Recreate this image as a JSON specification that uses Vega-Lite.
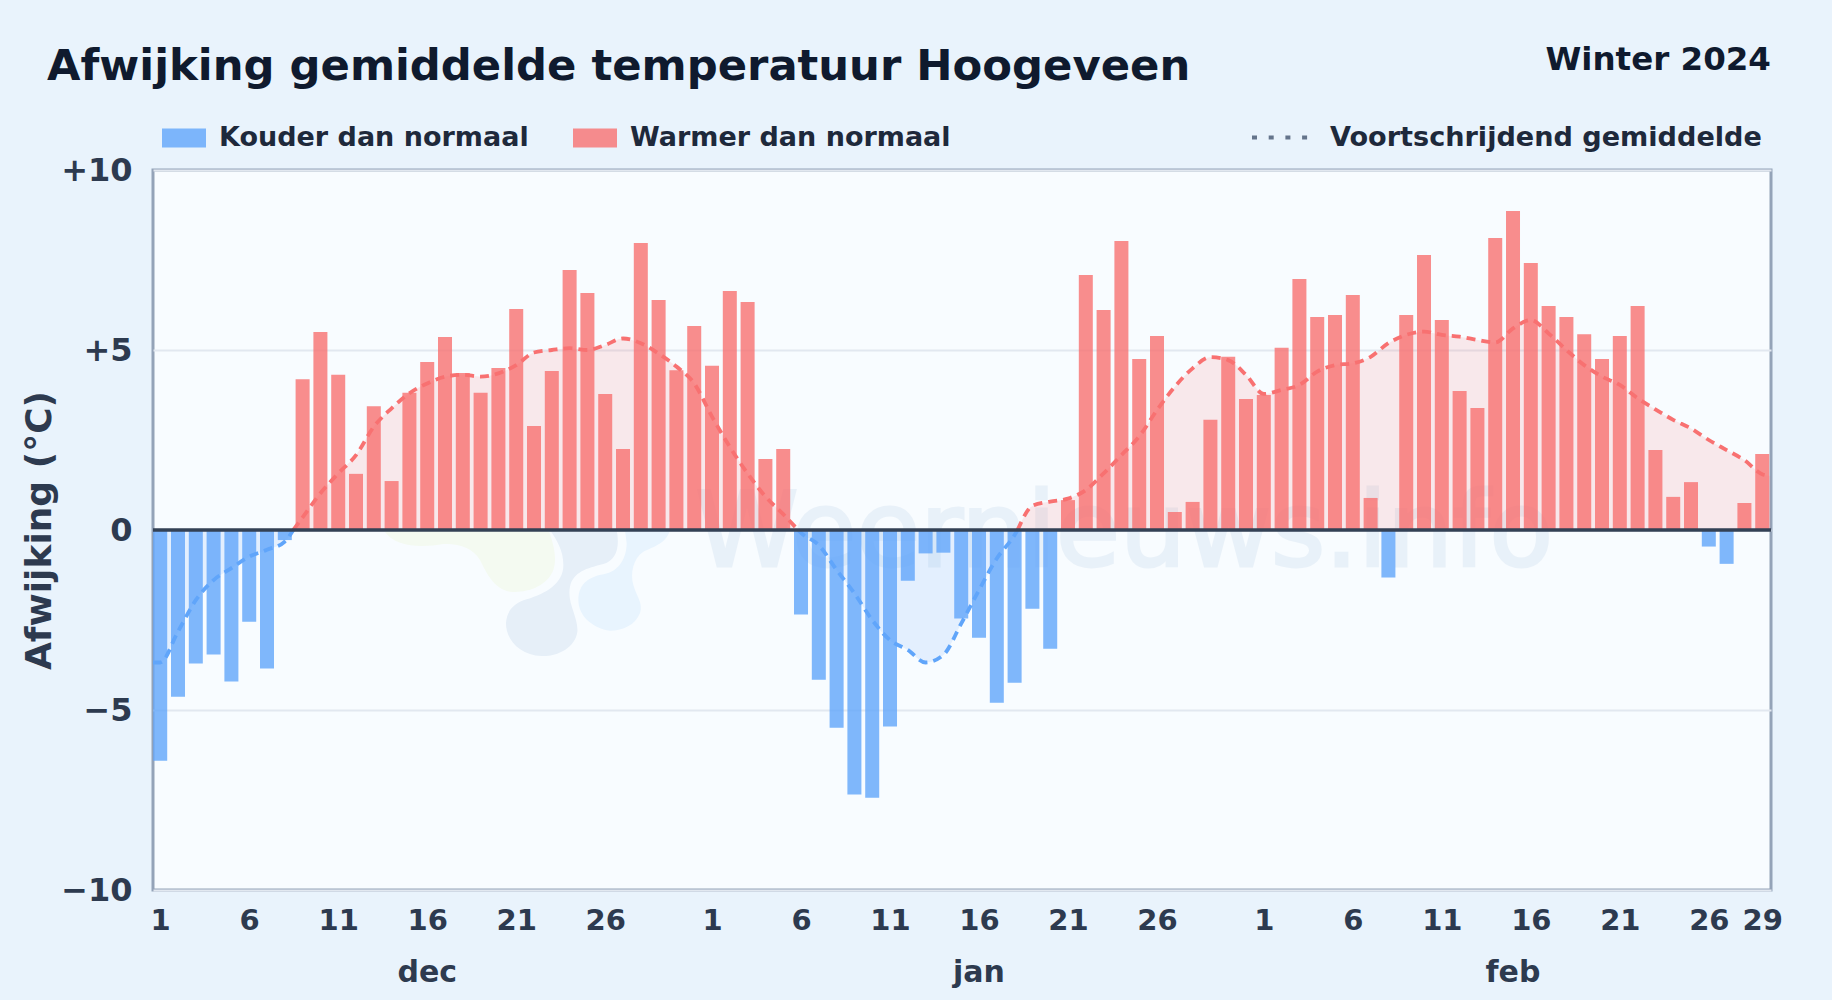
{"$schema":"https://vega.github.io/schema/vega-lite/v6.json","autosize":{"type":"none"},"width":1618,"height":720,"padding":{"left":153,"top":170,"right":61,"bottom":110},"background":"#e9f3fc","title":{"text":"Afwijking gemiddelde temperatuur Hoogeveen","anchor":"start","frame":"group","dx":-106,"offset":-79,"baseline":"alphabetic","font":"DejaVu Sans","fontWeight":"bold","fontSize":43.3,"color":"#0f1a2e"},"view":{"stroke":"#94a3b8","strokeWidth":3,"fill":"#f8fcff"},"config":{"font":"DejaVu Sans"},"resolve":{"scale":{"fill":"independent"}},"datasets":{"dagen":[{"date":"2023-12-01","dev":-6.41,"klasse":"Kouder dan normaal"},{"date":"2023-12-02","dev":-4.63,"klasse":"Kouder dan normaal"},{"date":"2023-12-03","dev":-3.71,"klasse":"Kouder dan normaal"},{"date":"2023-12-04","dev":-3.46,"klasse":"Kouder dan normaal"},{"date":"2023-12-05","dev":-4.21,"klasse":"Kouder dan normaal"},{"date":"2023-12-06","dev":-2.55,"klasse":"Kouder dan normaal"},{"date":"2023-12-07","dev":-3.85,"klasse":"Kouder dan normaal"},{"date":"2023-12-08","dev":-0.28,"klasse":"Kouder dan normaal"},{"date":"2023-12-09","dev":4.19,"klasse":"Warmer dan normaal"},{"date":"2023-12-10","dev":5.5,"klasse":"Warmer dan normaal"},{"date":"2023-12-11","dev":4.31,"klasse":"Warmer dan normaal"},{"date":"2023-12-12","dev":1.56,"klasse":"Warmer dan normaal"},{"date":"2023-12-13","dev":3.44,"klasse":"Warmer dan normaal"},{"date":"2023-12-14","dev":1.36,"klasse":"Warmer dan normaal"},{"date":"2023-12-15","dev":3.81,"klasse":"Warmer dan normaal"},{"date":"2023-12-16","dev":4.67,"klasse":"Warmer dan normaal"},{"date":"2023-12-17","dev":5.36,"klasse":"Warmer dan normaal"},{"date":"2023-12-18","dev":4.36,"klasse":"Warmer dan normaal"},{"date":"2023-12-19","dev":3.81,"klasse":"Warmer dan normaal"},{"date":"2023-12-20","dev":4.5,"klasse":"Warmer dan normaal"},{"date":"2023-12-21","dev":6.14,"klasse":"Warmer dan normaal"},{"date":"2023-12-22","dev":2.89,"klasse":"Warmer dan normaal"},{"date":"2023-12-23","dev":4.42,"klasse":"Warmer dan normaal"},{"date":"2023-12-24","dev":7.22,"klasse":"Warmer dan normaal"},{"date":"2023-12-25","dev":6.58,"klasse":"Warmer dan normaal"},{"date":"2023-12-26","dev":3.78,"klasse":"Warmer dan normaal"},{"date":"2023-12-27","dev":2.25,"klasse":"Warmer dan normaal"},{"date":"2023-12-28","dev":7.97,"klasse":"Warmer dan normaal"},{"date":"2023-12-29","dev":6.39,"klasse":"Warmer dan normaal"},{"date":"2023-12-30","dev":4.44,"klasse":"Warmer dan normaal"},{"date":"2023-12-31","dev":5.67,"klasse":"Warmer dan normaal"},{"date":"2024-01-01","dev":4.56,"klasse":"Warmer dan normaal"},{"date":"2024-01-02","dev":6.64,"klasse":"Warmer dan normaal"},{"date":"2024-01-03","dev":6.33,"klasse":"Warmer dan normaal"},{"date":"2024-01-04","dev":1.97,"klasse":"Warmer dan normaal"},{"date":"2024-01-05","dev":2.25,"klasse":"Warmer dan normaal"},{"date":"2024-01-06","dev":-2.35,"klasse":"Kouder dan normaal"},{"date":"2024-01-07","dev":-4.16,"klasse":"Kouder dan normaal"},{"date":"2024-01-08","dev":-5.49,"klasse":"Kouder dan normaal"},{"date":"2024-01-09","dev":-7.35,"klasse":"Kouder dan normaal"},{"date":"2024-01-10","dev":-7.44,"klasse":"Kouder dan normaal"},{"date":"2024-01-11","dev":-5.46,"klasse":"Kouder dan normaal"},{"date":"2024-01-12","dev":-1.41,"klasse":"Kouder dan normaal"},{"date":"2024-01-13","dev":-0.65,"klasse":"Kouder dan normaal"},{"date":"2024-01-14","dev":-0.63,"klasse":"Kouder dan normaal"},{"date":"2024-01-15","dev":-2.46,"klasse":"Kouder dan normaal"},{"date":"2024-01-16","dev":-2.99,"klasse":"Kouder dan normaal"},{"date":"2024-01-17","dev":-4.8,"klasse":"Kouder dan normaal"},{"date":"2024-01-18","dev":-4.24,"klasse":"Kouder dan normaal"},{"date":"2024-01-19","dev":-2.19,"klasse":"Kouder dan normaal"},{"date":"2024-01-20","dev":-3.3,"klasse":"Kouder dan normaal"},{"date":"2024-01-21","dev":0.83,"klasse":"Warmer dan normaal"},{"date":"2024-01-22","dev":7.08,"klasse":"Warmer dan normaal"},{"date":"2024-01-23","dev":6.11,"klasse":"Warmer dan normaal"},{"date":"2024-01-24","dev":8.03,"klasse":"Warmer dan normaal"},{"date":"2024-01-25","dev":4.75,"klasse":"Warmer dan normaal"},{"date":"2024-01-26","dev":5.39,"klasse":"Warmer dan normaal"},{"date":"2024-01-27","dev":0.5,"klasse":"Warmer dan normaal"},{"date":"2024-01-28","dev":0.78,"klasse":"Warmer dan normaal"},{"date":"2024-01-29","dev":3.06,"klasse":"Warmer dan normaal"},{"date":"2024-01-30","dev":4.81,"klasse":"Warmer dan normaal"},{"date":"2024-01-31","dev":3.64,"klasse":"Warmer dan normaal"},{"date":"2024-02-01","dev":3.75,"klasse":"Warmer dan normaal"},{"date":"2024-02-02","dev":5.06,"klasse":"Warmer dan normaal"},{"date":"2024-02-03","dev":6.97,"klasse":"Warmer dan normaal"},{"date":"2024-02-04","dev":5.92,"klasse":"Warmer dan normaal"},{"date":"2024-02-05","dev":5.97,"klasse":"Warmer dan normaal"},{"date":"2024-02-06","dev":6.53,"klasse":"Warmer dan normaal"},{"date":"2024-02-07","dev":0.89,"klasse":"Warmer dan normaal"},{"date":"2024-02-08","dev":-1.32,"klasse":"Kouder dan normaal"},{"date":"2024-02-09","dev":5.97,"klasse":"Warmer dan normaal"},{"date":"2024-02-10","dev":7.64,"klasse":"Warmer dan normaal"},{"date":"2024-02-11","dev":5.83,"klasse":"Warmer dan normaal"},{"date":"2024-02-12","dev":3.86,"klasse":"Warmer dan normaal"},{"date":"2024-02-13","dev":3.39,"klasse":"Warmer dan normaal"},{"date":"2024-02-14","dev":8.11,"klasse":"Warmer dan normaal"},{"date":"2024-02-15","dev":8.86,"klasse":"Warmer dan normaal"},{"date":"2024-02-16","dev":7.42,"klasse":"Warmer dan normaal"},{"date":"2024-02-17","dev":6.22,"klasse":"Warmer dan normaal"},{"date":"2024-02-18","dev":5.92,"klasse":"Warmer dan normaal"},{"date":"2024-02-19","dev":5.44,"klasse":"Warmer dan normaal"},{"date":"2024-02-20","dev":4.75,"klasse":"Warmer dan normaal"},{"date":"2024-02-21","dev":5.39,"klasse":"Warmer dan normaal"},{"date":"2024-02-22","dev":6.22,"klasse":"Warmer dan normaal"},{"date":"2024-02-23","dev":2.22,"klasse":"Warmer dan normaal"},{"date":"2024-02-24","dev":0.92,"klasse":"Warmer dan normaal"},{"date":"2024-02-25","dev":1.33,"klasse":"Warmer dan normaal"},{"date":"2024-02-26","dev":-0.46,"klasse":"Kouder dan normaal"},{"date":"2024-02-27","dev":-0.94,"klasse":"Kouder dan normaal"},{"date":"2024-02-28","dev":0.75,"klasse":"Warmer dan normaal"},{"date":"2024-02-29","dev":2.11,"klasse":"Warmer dan normaal"}],"gemiddelde":[{"date":"2023-11-30T14:17:00Z","ma":-3.68,"teken":"koud","deel":"k1"},{"date":"2023-12-01","ma":-3.68,"teken":"koud","deel":"k1"},{"date":"2023-12-02","ma":-2.82,"teken":"koud","deel":"k1"},{"date":"2023-12-03","ma":-1.95,"teken":"koud","deel":"k1"},{"date":"2023-12-04","ma":-1.39,"teken":"koud","deel":"k1"},{"date":"2023-12-05","ma":-1.06,"teken":"koud","deel":"k1"},{"date":"2023-12-06","ma":-0.74,"teken":"koud","deel":"k1"},{"date":"2023-12-07","ma":-0.55,"teken":"koud","deel":"k1"},{"date":"2023-12-08","ma":-0.32,"teken":"koud","deel":"k1"},{"date":"2023-12-08T11:30:00Z","ma":0,"teken":"koud","deel":"k1"},{"date":"2023-12-08T11:30:00Z","ma":0,"teken":"warm","deel":"w1"},{"date":"2023-12-09","ma":0.35,"teken":"warm","deel":"w1"},{"date":"2023-12-10","ma":1.02,"teken":"warm","deel":"w1"},{"date":"2023-12-11","ma":1.57,"teken":"warm","deel":"w1"},{"date":"2023-12-12","ma":2.08,"teken":"warm","deel":"w1"},{"date":"2023-12-13","ma":2.87,"teken":"warm","deel":"w1"},{"date":"2023-12-14","ma":3.38,"teken":"warm","deel":"w1"},{"date":"2023-12-15","ma":3.8,"teken":"warm","deel":"w1"},{"date":"2023-12-16","ma":4.07,"teken":"warm","deel":"w1"},{"date":"2023-12-17","ma":4.26,"teken":"warm","deel":"w1"},{"date":"2023-12-18","ma":4.31,"teken":"warm","deel":"w1"},{"date":"2023-12-19","ma":4.26,"teken":"warm","deel":"w1"},{"date":"2023-12-20","ma":4.35,"teken":"warm","deel":"w1"},{"date":"2023-12-21","ma":4.58,"teken":"warm","deel":"w1"},{"date":"2023-12-22","ma":4.93,"teken":"warm","deel":"w1"},{"date":"2023-12-23","ma":5.0,"teken":"warm","deel":"w1"},{"date":"2023-12-24","ma":5.05,"teken":"warm","deel":"w1"},{"date":"2023-12-25","ma":5.0,"teken":"warm","deel":"w1"},{"date":"2023-12-26","ma":5.14,"teken":"warm","deel":"w1"},{"date":"2023-12-27","ma":5.32,"teken":"warm","deel":"w1"},{"date":"2023-12-28","ma":5.19,"teken":"warm","deel":"w1"},{"date":"2023-12-29","ma":4.9,"teken":"warm","deel":"w1"},{"date":"2023-12-30","ma":4.54,"teken":"warm","deel":"w1"},{"date":"2023-12-31","ma":4.07,"teken":"warm","deel":"w1"},{"date":"2024-01-01","ma":3.15,"teken":"warm","deel":"w1"},{"date":"2024-01-02","ma":2.31,"teken":"warm","deel":"w1"},{"date":"2024-01-03","ma":1.57,"teken":"warm","deel":"w1"},{"date":"2024-01-04","ma":0.93,"teken":"warm","deel":"w1"},{"date":"2024-01-05","ma":0.44,"teken":"warm","deel":"w1"},{"date":"2024-01-05T20:00:00Z","ma":0,"teken":"warm","deel":"w1"},{"date":"2024-01-05T20:00:00Z","ma":0,"teken":"koud","deel":"k2"},{"date":"2024-01-06","ma":-0.08,"teken":"koud","deel":"k2"},{"date":"2024-01-07","ma":-0.42,"teken":"koud","deel":"k2"},{"date":"2024-01-08","ma":-1.11,"teken":"koud","deel":"k2"},{"date":"2024-01-09","ma":-1.76,"teken":"koud","deel":"k2"},{"date":"2024-01-10","ma":-2.5,"teken":"koud","deel":"k2"},{"date":"2024-01-11","ma":-3.06,"teken":"koud","deel":"k2"},{"date":"2024-01-12","ma":-3.33,"teken":"koud","deel":"k2"},{"date":"2024-01-13","ma":-3.68,"teken":"koud","deel":"k2"},{"date":"2024-01-14","ma":-3.47,"teken":"koud","deel":"k2"},{"date":"2024-01-15","ma":-2.6,"teken":"koud","deel":"k2"},{"date":"2024-01-16","ma":-1.67,"teken":"koud","deel":"k2"},{"date":"2024-01-17","ma":-0.79,"teken":"koud","deel":"k2"},{"date":"2024-01-18","ma":-0.14,"teken":"koud","deel":"k2"},{"date":"2024-01-18T04:00:00Z","ma":0,"teken":"koud","deel":"k2"},{"date":"2024-01-18T04:00:00Z","ma":0,"teken":"warm","deel":"w2"},{"date":"2024-01-19","ma":0.67,"teken":"warm","deel":"w2"},{"date":"2024-01-20","ma":0.79,"teken":"warm","deel":"w2"},{"date":"2024-01-21","ma":0.87,"teken":"warm","deel":"w2"},{"date":"2024-01-22","ma":1.11,"teken":"warm","deel":"w2"},{"date":"2024-01-23","ma":1.57,"teken":"warm","deel":"w2"},{"date":"2024-01-24","ma":2.08,"teken":"warm","deel":"w2"},{"date":"2024-01-25","ma":2.6,"teken":"warm","deel":"w2"},{"date":"2024-01-26","ma":3.33,"teken":"warm","deel":"w2"},{"date":"2024-01-27","ma":3.98,"teken":"warm","deel":"w2"},{"date":"2024-01-28","ma":4.49,"teken":"warm","deel":"w2"},{"date":"2024-01-29","ma":4.8,"teken":"warm","deel":"w2"},{"date":"2024-01-30","ma":4.72,"teken":"warm","deel":"w2"},{"date":"2024-01-31","ma":4.31,"teken":"warm","deel":"w2"},{"date":"2024-02-01","ma":3.78,"teken":"warm","deel":"w2"},{"date":"2024-02-02","ma":3.89,"teken":"warm","deel":"w2"},{"date":"2024-02-03","ma":4.03,"teken":"warm","deel":"w2"},{"date":"2024-02-04","ma":4.4,"teken":"warm","deel":"w2"},{"date":"2024-02-05","ma":4.58,"teken":"warm","deel":"w2"},{"date":"2024-02-06","ma":4.63,"teken":"warm","deel":"w2"},{"date":"2024-02-07","ma":4.81,"teken":"warm","deel":"w2"},{"date":"2024-02-08","ma":5.19,"teken":"warm","deel":"w2"},{"date":"2024-02-09","ma":5.42,"teken":"warm","deel":"w2"},{"date":"2024-02-10","ma":5.51,"teken":"warm","deel":"w2"},{"date":"2024-02-11","ma":5.42,"teken":"warm","deel":"w2"},{"date":"2024-02-12","ma":5.37,"teken":"warm","deel":"w2"},{"date":"2024-02-13","ma":5.28,"teken":"warm","deel":"w2"},{"date":"2024-02-14","ma":5.21,"teken":"warm","deel":"w2"},{"date":"2024-02-15","ma":5.6,"teken":"warm","deel":"w2"},{"date":"2024-02-16","ma":5.83,"teken":"warm","deel":"w2"},{"date":"2024-02-17","ma":5.46,"teken":"warm","deel":"w2"},{"date":"2024-02-18","ma":5.0,"teken":"warm","deel":"w2"},{"date":"2024-02-19","ma":4.58,"teken":"warm","deel":"w2"},{"date":"2024-02-20","ma":4.26,"teken":"warm","deel":"w2"},{"date":"2024-02-21","ma":4.03,"teken":"warm","deel":"w2"},{"date":"2024-02-22","ma":3.66,"teken":"warm","deel":"w2"},{"date":"2024-02-23","ma":3.35,"teken":"warm","deel":"w2"},{"date":"2024-02-24","ma":3.06,"teken":"warm","deel":"w2"},{"date":"2024-02-25","ma":2.82,"teken":"warm","deel":"w2"},{"date":"2024-02-26","ma":2.5,"teken":"warm","deel":"w2"},{"date":"2024-02-27","ma":2.22,"teken":"warm","deel":"w2"},{"date":"2024-02-28","ma":1.94,"teken":"warm","deel":"w2"},{"date":"2024-02-29","ma":1.55,"teken":"warm","deel":"w2"},{"date":"2024-02-29T11:00:00Z","ma":1.5,"teken":"warm","deel":"w2"}]},"layer":[{"data":{"values":[{"naam":"geel","date":"2023-12-22T10:20:00Z","v":-2.64},{"naam":"grijs","date":"2023-12-22T10:20:00Z","v":-2.64},{"naam":"blauw","date":"2023-12-22T10:20:00Z","v":-2.64}]},"mark":{"type":"point","filled":true,"size":4,"opacity":1},"encoding":{"x":{"field":"date","type":"temporal","title":null,"scale":{"type":"utc","padding":0,"domain":["2023-11-30T14:17:00Z","2024-02-29T11:51:00Z"]},"axis":{"values":["2023-12-01","2023-12-06","2023-12-11","2023-12-16","2023-12-21","2023-12-26","2024-01-01","2024-01-06","2024-01-11","2024-01-16","2024-01-21","2024-01-26","2024-02-01","2024-02-06","2024-02-11","2024-02-16","2024-02-21","2024-02-26","2024-02-29"],"labelExpr":"utcdate(datum.value)","grid":false,"domain":false,"ticks":false,"labelPadding":16,"labelFont":"DejaVu Sans","labelFontWeight":"bold","labelFontSize":29,"labelColor":"#2d3a4f","labelOverlap":false,"labelBound":false,"labelFlush":false}},"y":{"field":"v","type":"quantitative","title":"Afwijking (°C)","scale":{"domain":[-10,10],"nice":false,"zero":false},"axis":{"values":[-10,-5,0,5,10],"labelExpr":"datum.value>0?'+'+datum.value:datum.value<0?'−'+abs(datum.value):'0'","grid":true,"gridColor":"#e2e8f0","gridWidth":2,"domain":false,"ticks":false,"labelPadding":21,"labelFont":"DejaVu Sans","labelFontWeight":"bold","labelFontSize":32,"labelColor":"#2d3a4f","titleFont":"DejaVu Sans","titleFontWeight":"bold","titleFontSize":36,"titleColor":"#2d3a4f","titlePadding":2}},"shape":{"field":"naam","type":"nominal","legend":null,"scale":{"domain":["geel","grijs","blauw"],"range":["M-158.3,-95L6.7,-95C13.3,-78.3 15,-65 11.7,-55C5,-38.3 -15,-31.7 -31.7,-33.3C-48.3,-36.7 -55,-51.7 -61.7,-65C-68.3,-76.7 -81.7,-81.7 -98.3,-81C-115,-78.3 -145,-75 -158.3,-95Z","M8.3,-95L75,-95C78.3,-78.3 75,-65 61.7,-61C45,-56.7 31.7,-53.3 28.3,-38.3C25,-21.7 36.7,-8.3 35.7,6.7C33.3,23.3 15,31.7 0,31C-21.7,30 -35.7,15 -35.7,-1.7C-35,-15 -26.7,-22.3 -15,-25.7C5,-31.7 21.7,-41.7 21.7,-60C21.7,-75 15,-85 8.3,-95Z","M83.3,-95L128.3,-95C125,-81.7 111.7,-78.3 101.7,-73.3C91.7,-66.7 88.3,-51.7 91.7,-40C95,-28.3 101.7,-21.7 98.3,-11.7C93.3,0 81.7,5.7 68.3,5.7C51.7,3.3 36.7,-8.3 36.7,-25C36.7,-41.7 48.3,-48.3 61.7,-50.7C78.3,-53.3 85,-68.3 85,-81.7Z"]}},"fill":{"field":"naam","type":"nominal","legend":null,"scale":{"domain":["geel","grijs","blauw"],"range":["#f4faf1","#e6eff8","#e8f4fe"]}}}},{"data":{"values":[{"tekst":"Weernieuws.info","date":"2024-01-24T04:00:00Z","v":-1}]},"mark":{"type":"text","font":"DejaVu Sans","fontSize":104,"fontWeight":"normal","align":"center","baseline":"alphabetic","fill":"#2b6cb0","stroke":"#2b6cb0","strokeWidth":3,"opacity":0.07},"encoding":{"x":{"field":"date","type":"temporal","title":null},"y":{"field":"v","type":"quantitative","title":"Afwijking (°C)"},"text":{"field":"tekst"}}},{"data":{"name":"gemiddelde"},"mark":{"type":"area","interpolate":"monotone"},"encoding":{"x":{"field":"date","type":"temporal","title":null},"y":{"field":"ma","type":"quantitative","title":"Afwijking (°C)"},"y2":{"datum":0},"detail":{"field":"deel"},"fill":{"field":"teken","type":"nominal","legend":null,"scale":{"domain":["warm","koud"],"range":["rgba(248,113,113,0.14)","rgba(96,165,250,0.14)"]}}}},{"data":{"name":"dagen"},"mark":{"type":"bar","width":14,"orient":"vertical"},"encoding":{"x":{"field":"date","type":"temporal","title":null},"y":{"field":"dev","type":"quantitative","title":"Afwijking (°C)"},"color":{"field":"klasse","type":"nominal","title":null,"scale":{"domain":["Kouder dan normaal","Warmer dan normaal"],"range":["rgba(96,165,250,0.8)","rgba(248,113,113,0.8)"]},"legend":{"orient":"none","legendX":9,"legendY":-54,"direction":"horizontal","columns":2,"columnPadding":44,"symbolType":"M-1,-0.43H1V0.43H-1Z","symbolSize":1936,"symbolStrokeWidth":0,"labelFont":"DejaVu Sans","labelFontWeight":"bold","labelFontSize":27,"labelColor":"#1e293b","labelOffset":13,"labelLimit":500}}}},{"data":{"name":"gemiddelde"},"mark":{"type":"line","interpolate":"monotone","strokeWidth":3.8,"strokeDash":[9,6]},"encoding":{"x":{"field":"date","type":"temporal","title":null},"y":{"field":"ma","type":"quantitative","title":"Afwijking (°C)"},"detail":{"field":"deel"},"stroke":{"field":"teken","type":"nominal","legend":null,"scale":{"domain":["warm","koud"],"range":["#f87171","#60a5fa"]}}}},{"data":{"values":[{"date":"2024-01-16","ma":0}]},"mark":{"type":"line","color":"#64748b","strokeWidth":4},"encoding":{"x":{"field":"date","type":"temporal","title":null},"y":{"field":"ma","type":"quantitative","title":"Afwijking (°C)"},"strokeDash":{"datum":"Voortschrijdend gemiddelde","title":null,"scale":{"domain":["Voortschrijdend gemiddelde"],"range":[[5,11.7]]},"legend":{"orient":"none","legendX":1097,"legendY":-63,"symbolType":"stroke","symbolSize":3249,"symbolStrokeWidth":4,"symbolStrokeColor":"#64748b","labelFont":"DejaVu Sans","labelFontWeight":"bold","labelFontSize":27.1,"labelColor":"#1e293b","labelOffset":19,"labelLimit":600}}}},{"data":{"values":[{"nul":0}]},"mark":{"type":"rule","color":"#334155","strokeWidth":3.5},"encoding":{"y":{"field":"nul","type":"quantitative","title":"Afwijking (°C)"}}},{"data":{"values":[{"tekst":"dec","date":"2023-12-16","v":-10},{"tekst":"jan","date":"2024-01-16","v":-10},{"tekst":"feb","date":"2024-02-15","v":-10}]},"mark":{"type":"text","font":"DejaVu Sans","fontWeight":"bold","fontSize":30,"color":"#2d3a4f","align":"center","baseline":"alphabetic","dy":92},"encoding":{"x":{"field":"date","type":"temporal","title":null},"y":{"field":"v","type":"quantitative","title":"Afwijking (°C)"},"text":{"field":"tekst"}}},{"data":{"values":[{"tekst":"Winter 2024","date":"2024-02-29T11:51:00Z","v":10}]},"mark":{"type":"text","font":"DejaVu Sans","fontWeight":"bold","fontSize":32.5,"color":"#0f1a2e","align":"right","baseline":"alphabetic","dy":-100},"encoding":{"x":{"field":"date","type":"temporal","title":null},"y":{"field":"v","type":"quantitative","title":"Afwijking (°C)"},"text":{"field":"tekst"}}}]}
